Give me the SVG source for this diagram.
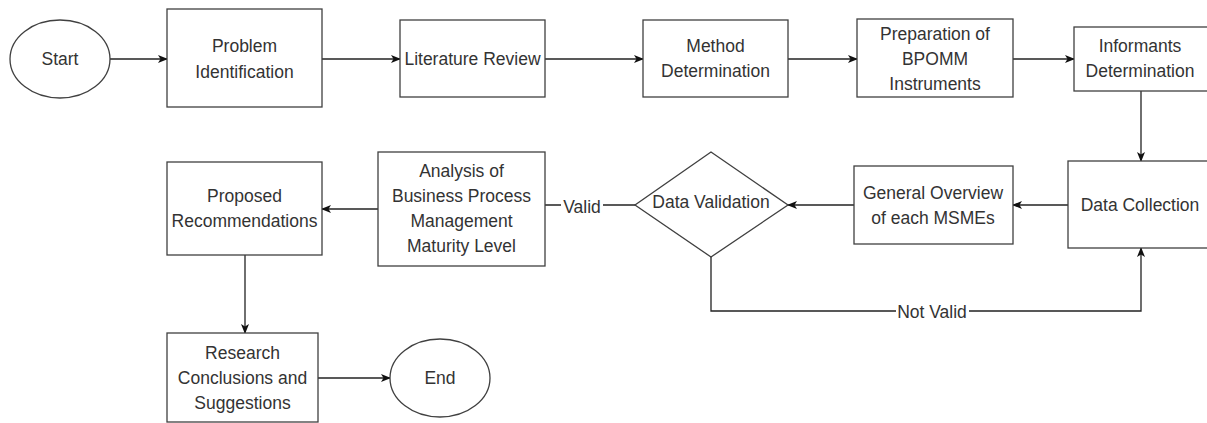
<svg xmlns="http://www.w3.org/2000/svg" width="1207" height="423" viewBox="0 0 1207 423">
  <defs>
    <marker id="arrow" viewBox="0 0 10 10" refX="9" refY="5" markerWidth="10" markerHeight="10" markerUnits="userSpaceOnUse" orient="auto">
      <path d="M0,1 L10,5 L0,9 L2.5,5 Z" fill="#111"/>
    </marker>
  </defs>
  <style>
    .shape { fill: #fff; stroke: #404040; stroke-width: 1.3; }
    .edge { fill: none; stroke: #222; stroke-width: 1.3; }
    text { font-family: "Liberation Sans", Arial, sans-serif; font-size: 17.5px; fill: #333; text-anchor: middle; }
    .lbl { fill: #fff; }
  </style>
  <rect width="1207" height="423" fill="#fff"/>

  <g id="connectors">
    <line class="edge" x1="110" y1="59" x2="167" y2="59" marker-end="url(#arrow)"/>
    <line class="edge" x1="322" y1="59" x2="400" y2="59" marker-end="url(#arrow)"/>
    <line class="edge" x1="545" y1="59" x2="643" y2="59" marker-end="url(#arrow)"/>
    <line class="edge" x1="788" y1="59" x2="857" y2="59" marker-end="url(#arrow)"/>
    <line class="edge" x1="1013" y1="59" x2="1074" y2="59" marker-end="url(#arrow)"/>
    <line class="edge" x1="1141" y1="91" x2="1141" y2="161" marker-end="url(#arrow)"/>
    <line class="edge" x1="1068" y1="205" x2="1013" y2="205" marker-end="url(#arrow)"/>
    <line class="edge" x1="854" y1="205" x2="788" y2="205" marker-end="url(#arrow)"/>
    <g id="edge-valid">
      <line class="edge" x1="635" y1="205" x2="545" y2="205"/>
      <rect class="lbl" x="561" y="196" width="42" height="20"/>
      <text x="582" y="213">Valid</text>
    </g>
    <g id="edge-not-valid">
      <polyline class="edge" points="711,257 711,311 1141,311 1141,248" marker-end="url(#arrow)"/>
      <rect class="lbl" x="896" y="302" width="73" height="20"/>
      <text x="932" y="318">Not Valid</text>
    </g>
    <line class="edge" x1="378" y1="209" x2="322" y2="209" marker-end="url(#arrow)"/>
    <line class="edge" x1="245" y1="255" x2="245" y2="333" marker-end="url(#arrow)"/>
    <line class="edge" x1="318" y1="378" x2="390" y2="378" marker-end="url(#arrow)"/>
  </g>

  <g id="start">
    <ellipse class="shape" cx="60" cy="59" rx="50" ry="39"/>
    <text x="60" y="65">Start</text>
  </g>
  <g id="problem-identification">
    <rect class="shape" x="167" y="9" width="155" height="98"/>
    <text x="244.5" y="52">Problem</text>
    <text x="244.5" y="78">Identification</text>
  </g>
  <g id="literature-review">
    <rect class="shape" x="400" y="20" width="145" height="77"/>
    <text x="472.5" y="65">Literature Review</text>
  </g>
  <g id="method-determination">
    <rect class="shape" x="643" y="20" width="145" height="77"/>
    <text x="715.5" y="52">Method</text>
    <text x="715.5" y="77">Determination</text>
  </g>
  <g id="preparation-instruments">
    <rect class="shape" x="857" y="19" width="156" height="78"/>
    <text x="935" y="40">Preparation of</text>
    <text x="935" y="65">BPOMM</text>
    <text x="935" y="90">Instruments</text>
  </g>
  <g id="informants-determination">
    <rect class="shape" x="1074" y="27" width="140" height="64"/>
    <text x="1140" y="52">Informants</text>
    <text x="1140" y="77">Determination</text>
  </g>
  <g id="data-collection">
    <rect class="shape" x="1068" y="161" width="146" height="87"/>
    <text x="1140" y="211">Data Collection</text>
  </g>
  <g id="general-overview">
    <rect class="shape" x="854" y="166" width="159" height="78"/>
    <text x="933" y="199">General Overview</text>
    <text x="933" y="224">of each MSMEs</text>
  </g>
  <g id="data-validation">
    <polygon class="shape" points="711,152 788,205 711,257 635,205"/>
    <text x="711" y="208">Data Validation</text>
  </g>
  <g id="maturity-analysis">
    <rect class="shape" x="378" y="152" width="167" height="114"/>
    <text x="461.5" y="177">Analysis of</text>
    <text x="461.5" y="202">Business Process</text>
    <text x="461.5" y="227">Management</text>
    <text x="461.5" y="252">Maturity Level</text>
  </g>
  <g id="proposed-recommendations">
    <rect class="shape" x="167" y="162" width="155" height="93"/>
    <text x="244.5" y="202">Proposed</text>
    <text x="244.5" y="227">Recommendations</text>
  </g>
  <g id="research-conclusions">
    <rect class="shape" x="167" y="333" width="151" height="89"/>
    <text x="242.5" y="359">Research</text>
    <text x="242.5" y="384">Conclusions and</text>
    <text x="242.5" y="409">Suggestions</text>
  </g>
  <g id="end">
    <ellipse class="shape" cx="440" cy="378" rx="50" ry="39"/>
    <text x="440" y="384">End</text>
  </g>
</svg>
